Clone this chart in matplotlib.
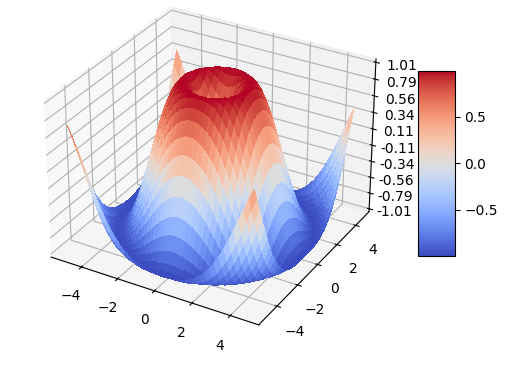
import matplotlib
matplotlib.use("Agg")
import matplotlib.pyplot as plt
import numpy as np
from matplotlib import cm
from matplotlib.ticker import FormatStrFormatter
from matplotlib.transforms import Bbox

x_values = np.arange(-5, 5, 0.25)
y_values = np.arange(-5, 5, 0.25)
z_ticks = [-1.01, -0.7856, -0.5611, -0.3367, -0.1122, 0.1122, 0.3367, 0.5611, 0.7856, 1.01]

# surface height, the surface is round so one triangle of the grid is enough
# row = larger distance from centre in grid steps, column = smaller one
height_rows = [
    [0.000],
    [0.247, 0.346],
    [0.479, 0.530, 0.650],
    [0.682, 0.711, 0.784, 0.873],
    [0.841, 0.858, 0.900, 0.949, 0.988],
    [0.949, 0.957, 0.975, 0.994, 0.999, 0.981],
    [0.997, 0.999, 1.000, 0.994, 0.973, 0.928, 0.853],
    [0.984, 0.981, 0.969, 0.945, 0.903, 0.836, 0.742, 0.618],
    [0.909, 0.903, 0.882, 0.844, 0.787, 0.706, 0.598, 0.465, 0.308],
    [0.778, 0.769, 0.742, 0.696, 0.629, 0.538, 0.424, 0.287, 0.130, -0.040],
    [0.598, 0.588, 0.558, 0.507, 0.434, 0.340, 0.224, 0.090, -0.060, -0.220, -0.384],
    [0.382, 0.371, 0.340, 0.287, 0.214, 0.121, 0.009, -0.118, -0.256, -0.400, -0.544, -0.680],
    [0.141, 0.130, 0.100, 0.049, -0.021, -0.108, -0.211, -0.325, -0.447, -0.572, -0.692, -0.802, -0.891],
    [-0.108, -0.118, -0.146, -0.192, -0.256, -0.334, -0.424, -0.522, -0.626, -0.725, -0.818, -0.897, -0.957, -0.993],
    [-0.351, -0.360, -0.384, -0.424, -0.478, -0.544, -0.618, -0.697, -0.776, -0.852, -0.917, -0.966, -0.995, -0.998, -0.972],
    [-0.572, -0.579, -0.599, -0.631, -0.674, -0.725, -0.782, -0.839, -0.895, -0.943, -0.979, -0.998, -0.996, -0.970, -0.915, -0.832],
    [-0.757, -0.762, -0.776, -0.802, -0.831, -0.869, -0.904, -0.941, -0.971, -0.992, -1.000, -0.990, -0.959, -0.905, -0.825, -0.718, -0.587],
    [-0.895, -0.897, -0.908, -0.922, -0.941, -0.960, -0.979, -0.993, -0.999, -0.996, -0.976, -0.939, -0.883, -0.802, -0.701, -0.577, -0.432, -0.269],
    [-0.978, -0.979, -0.983, -0.988, -0.995, -0.999, -0.999, -0.993, -0.978, -0.950, -0.908, -0.847, -0.768, -0.669, -0.551, -0.413, -0.258, -0.093, 0.081],
    [-0.999, -0.999, -0.998, -0.996, -0.990, -0.980, -0.964, -0.939, -0.905, -0.855, -0.792, -0.715, -0.618, -0.506, -0.374, -0.229, -0.073, 0.091, 0.258, 0.420],
    [-0.959, -0.956, -0.951, -0.940, -0.926, -0.905, -0.874, -0.834, -0.781, -0.718, -0.640, -0.546, -0.435, -0.315, -0.179, -0.033, 0.120, 0.276, 0.429, 0.578, 0.708],
]

Z = np.zeros((len(y_values), len(x_values)))
for i in range(len(y_values)):
    for j in range(len(x_values)):
        a, b = abs(i - 20), abs(j - 20)
        Z[i, j] = height_rows[max(a, b)][min(a, b)]

X, Y = np.meshgrid(x_values, y_values)

plt.rcParams['axes3d.automargin'] = True

fig = plt.figure(figsize=(6.4, 4.8), dpi=100)
ax = fig.add_subplot(projection="3d")
surf = ax.plot_surface(X, Y, Z, rstride=1, cstride=1, cmap=cm.coolwarm,
                       linewidth=0, antialiased=False)

ax.set_zlim(-1.01, 1.01)
ax.set_zticks(z_ticks)
ax.zaxis.set_major_formatter(FormatStrFormatter('%.02f'))

fig.colorbar(surf, shrink=0.5, aspect=5)

fig.savefig("out.png", dpi=100, bbox_inches=Bbox([[0.84, 0.17], [6.04, 4.01]]))
